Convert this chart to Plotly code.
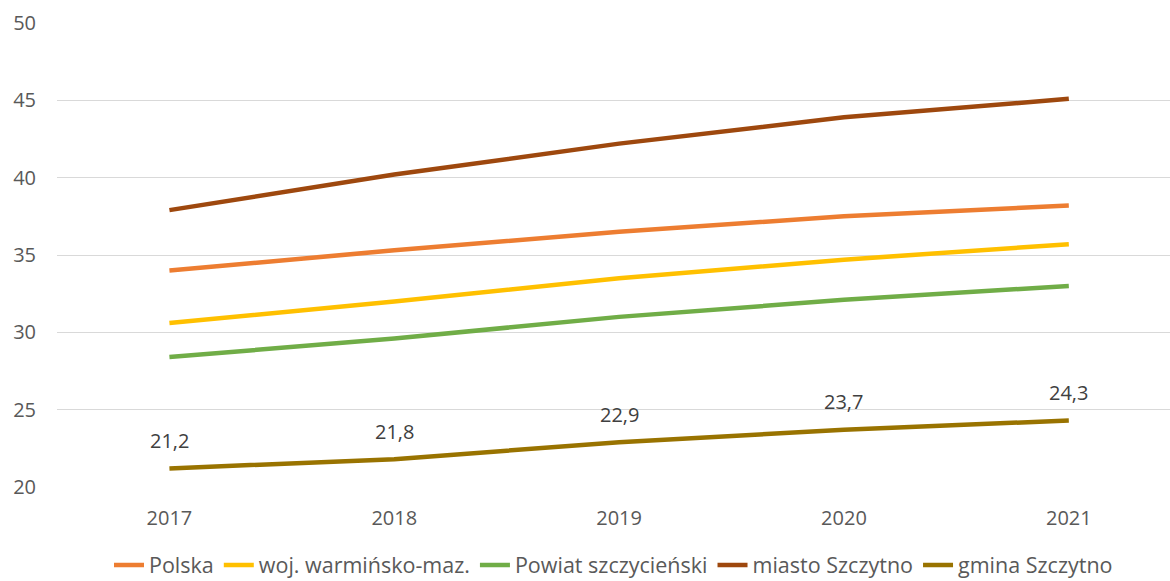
import plotly.graph_objects as go

years = ["2017", "2018", "2019", "2020", "2021"]
polska = [34.0, 35.3, 36.5, 37.5, 38.2]
woj = [30.6, 32.0, 33.5, 34.7, 35.7]
powiat = [28.4, 29.6, 31.0, 32.1, 33.0]
miasto = [37.9, 40.2, 42.2, 43.9, 45.1]
gmina = [21.2, 21.8, 22.9, 23.7, 24.3]

series = [
    ("Polska", polska, "#ED7D31"),
    ("woj. warmińsko-maz.", woj, "#FFC000"),
    ("Powiat szczycieński", powiat, "#70AD47"),
    ("miasto Szczytno", miasto, "#9E480E"),
    ("gmina Szczytno", gmina, "#997300"),
]

fig = go.Figure()
for name, vals, col in series:
    fig.add_trace(go.Scatter(x=years, y=vals, name=name, mode="lines",
                             line=dict(color=col, width=4.5)))

for i, v in enumerate(gmina):
    fig.add_annotation(x=i, y=v, xref="x", yref="y",
                       text=f"{v:.1f}".replace(".", ","), showarrow=False,
                       yshift=28, font=dict(size=20, color="#404040", family="Open Sans"))

fig.update_layout(
    width=1170, height=581,
    margin=dict(l=57, r=0, t=23, b=94, autoexpand=False),
    plot_bgcolor="white", paper_bgcolor="white",
    font=dict(family="Open Sans", color="#595959", size=20),
    showlegend=True,
    legend=dict(orientation="h", x=0.5, xanchor="center", y=-0.168, yanchor="middle",
                font=dict(family="Open Sans", size=21.5, color="#595959"),
                itemwidth=30, tracegroupgap=0),
    xaxis=dict(type="category", range=[-0.5, 4.45], showgrid=False, zeroline=False,
               showline=False, ticks="", tickfont=dict(size=20), ticklabelstandoff=17,
               automargin=False),
    yaxis=dict(range=[20, 50], dtick=5, showgrid=True, gridcolor="#D9D9D9", gridwidth=1.3,
               zeroline=False, showline=False, ticks="", tickfont=dict(size=20),
               ticklabelstandoff=20, automargin=False),
)

fig.write_html("out.html", config={"displayModeBar": False},
               post_script="document.body.style.margin='0';document.body.style.overflow='hidden';")
